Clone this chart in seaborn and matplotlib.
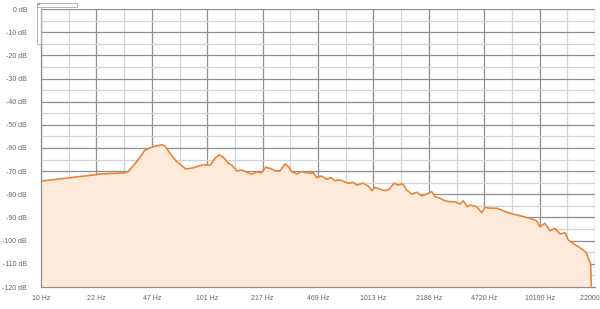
import numpy as np
import pandas as pd
import matplotlib
matplotlib.use("Agg")
import matplotlib.pyplot as plt
import matplotlib.ticker as mticker
import seaborn as sns
from matplotlib.patches import Rectangle

# ---- data ----
freq_hz = [10, 21.5, 22.7, 32.1, 33.6, 37.8, 42.4, 47.6, 53.5, 56.0, 60.0, 65.9, 74.9, 82.9,
           95.3, 104.6, 112.1, 119.0, 125.9, 134.9, 141.4, 151.6, 162.5, 174.2, 186.7,
           200.1, 214.5, 226.8, 240.7, 258.0, 276.6, 296.6, 310.5, 325.5, 348.9, 370.3,
           391.4, 419.6, 439.3, 460.6, 493.7, 529.1, 561.7, 593.9, 636.7, 675.8, 714.4,
           765.7, 802.7, 879.8, 943.2, 988.8, 1035, 1110, 1189, 1263, 1348, 1431, 1521,
           1608, 1723, 1848, 1981, 2123, 2276, 2383, 2554, 2737, 2934, 3145, 3372, 3529,
           3732, 3875, 4253, 4557, 4772, 5115, 5614, 6152, 6752, 7411, 8122, 8915, 9784,
           10242, 10979, 11772, 12619, 13525, 14501, 15182, 16271, 17443, 18697, 19596,
           20034, 20712, 20900]
level_db = [-74.3, -71.5, -71.2, -70.7, -70.2, -65.9, -60.9, -59.4, -58.6, -59.1, -62.3,
            -65.9, -69.1, -68.5, -67.2, -67.5, -64.5, -63.0, -64.0, -66.6, -67.3, -69.9,
            -69.5, -70.5, -71.2, -70.4, -70.7, -68.3, -68.8, -69.8, -69.9, -66.9, -68.0,
            -70.2, -71.2, -70.2, -70.5, -70.9, -70.7, -72.7, -72.1, -73.5, -72.8, -74.1,
            -73.8, -74.5, -75.2, -74.8, -76.0, -75.2, -76.4, -78.4, -77.0, -77.8, -78.4,
            -77.8, -75.2, -76.0, -75.5, -78.1, -79.9, -79.1, -80.7, -79.9, -78.9, -81.0,
            -81.7, -82.8, -83.2, -83.2, -84.2, -82.8, -85.3, -84.6, -85.3, -87.9, -85.6,
            -86.0, -86.0, -87.1, -88.2, -88.9, -89.6, -90.4, -91.4, -94.0, -92.5, -95.7,
            -94.7, -97.1, -96.6, -99.7, -101.2, -102.6, -104.0, -105.5, -107.6, -110.0,
            -120.0]

x_tick_labels = ["10 Hz", "22 Hz", "47 Hz", "101 Hz", "217 Hz", "469 Hz", "1013 Hz",
                 "2186 Hz", "4720 Hz", "10190 Hz", "22000 Hz"]
y_tick_values = [0, -10, -20, -30, -40, -50, -60, -70, -80, -90, -100, -110, -120]
y_tick_labels = [f"{v} dB" for v in y_tick_values]

df = pd.DataFrame({"freq": freq_hz, "db": level_db})

sns.set_style("white")
plt.rcParams["font.family"] = ["Liberation Sans", "DejaVu Sans"]

fig = plt.figure(figsize=(6.0, 3.09), dpi=100)
ax = fig.add_axes([41 / 600, 1 - 287 / 309, 554 / 600, 278 / 309])

line_c = "#ea8437"
fill_c = "#fdeadb"

ax.fill_between(df["freq"], df["db"], -120, color=fill_c, lw=0, zorder=1)
sns.lineplot(data=df, x="freq", y="db", ax=ax, color=line_c, lw=1.2, zorder=3)

ax.set_xscale("log")
ax.set_xlim(10, 22000)
ax.set_ylim(-120, 0)

major_x = np.geomspace(10, 22000, 11)
minor_x = np.geomspace(10, 22000, 21)[1::2]
ax.xaxis.set_major_locator(mticker.FixedLocator(major_x))
ax.xaxis.set_major_formatter(mticker.FixedFormatter(x_tick_labels))
ax.xaxis.set_minor_locator(mticker.FixedLocator(minor_x))
ax.xaxis.set_minor_formatter(mticker.NullFormatter())
ax.set_yticks(y_tick_values)
ax.set_yticklabels(y_tick_labels)
ax.set_yticks(np.arange(-115, 0, 10), minor=True)
ax.yaxis.set_minor_formatter(mticker.NullFormatter())

ax.grid(which="major", color="#8f8f8f", lw=0.9, zorder=2)
ax.grid(which="minor", color="#d4d4d4", lw=0.9, zorder=2)
for ln in ax.get_xgridlines() + ax.get_ygridlines():
    ln.set_zorder(2)

ax.tick_params(axis="both", which="both", length=0, labelsize=5.0, colors="#666666")
ax.tick_params(axis="y", pad=10)
ax.tick_params(axis="x", pad=6)
ax.set_xlabel("")
ax.set_ylabel("")

for side in ["top", "right"]:
    ax.spines[side].set_visible(False)
ax.spines["left"].set_color("#8f8f8f")
ax.spines["bottom"].set_color("#8f8f8f")
ax.spines["left"].set_linewidth(0.9)
ax.spines["bottom"].set_linewidth(0.9)

# small handle decorations at top-left
fig.patches.append(Rectangle((37 / 600, 1 - 7 / 309), 40 / 600, 4 / 309, transform=fig.transFigure,
                             fill=False, ec="#b5b5b5", lw=0.7))
fig.patches.append(Rectangle((37 / 600, 1 - 44 / 309), 4 / 600, 37 / 309, transform=fig.transFigure,
                             fill=False, ec="#b5b5b5", lw=0.7))
fig.text(38.5 / 600, 1 - 5 / 309, "+", fontsize=5, color="#888888", ha="center", va="center")

fig.savefig("out.png", dpi=100)
